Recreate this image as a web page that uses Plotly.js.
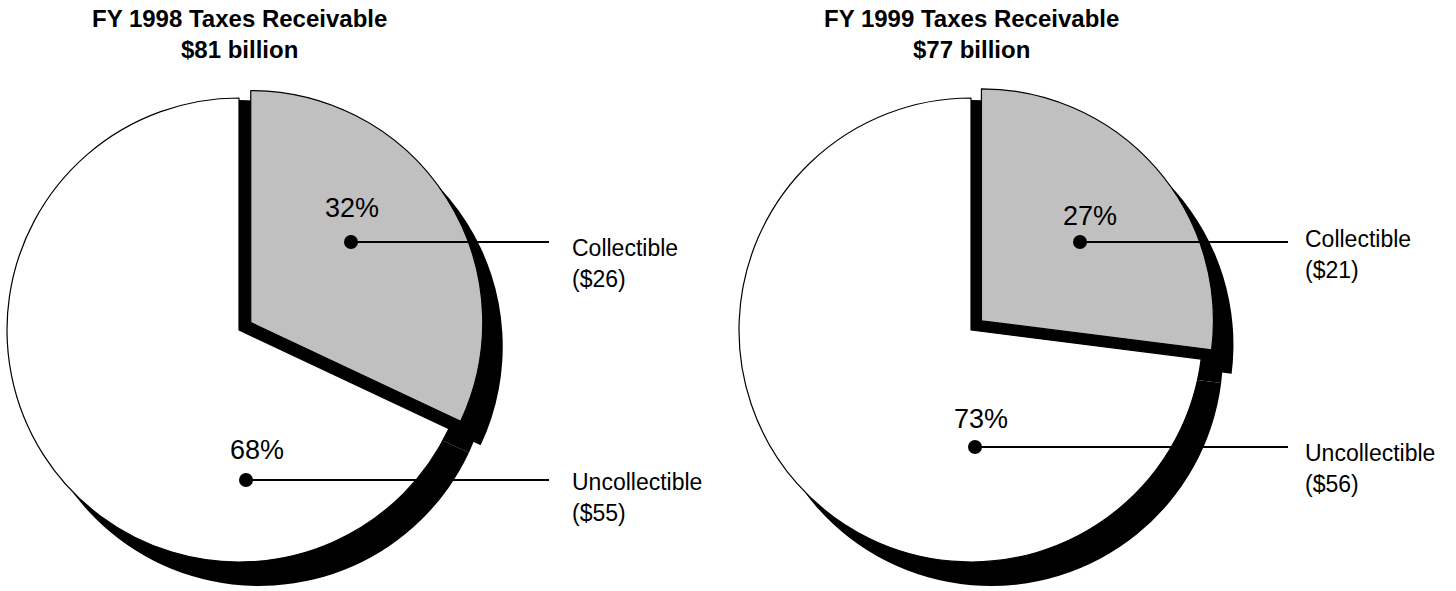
<!DOCTYPE html>
<html>
<head>
<meta charset="utf-8">
<script src="https://cdn.plot.ly/plotly-3.0.1.min.js"></script>
<style>
  html, body { margin: 0; padding: 0; overflow: hidden; background: #ffffff; }
  #chart { position: absolute; left: -20px; top: 0; }
</style>
</head>
<body>
<div id="chart"></div>
<script>
// ---- data ----
const years = ['FY 1998', 'FY 1999'];
const totals = [81, 77];                 // $ billion
const categories = ['Collectible', 'Uncollectible'];
const pct1998 = [32, 68];
const pct1999 = [27, 73];
const dollars1998 = [26, 55];
const dollars1999 = [21, 56];

// ---- layout geometry (page pixels) ----
const W = 1496, H = 640, OX = 20;       // div is shifted 20px left, taller than the window
const R = 232;                          // pie radius in px
const PULL = 0.06;
const SHADOW = {dx: 20, dy: 24};
const FONT = 'Liberation Sans, Arial, sans-serif';

const pies = [
  {cx: 239, cy: 330, pct: pct1998, dollars: dollars1998, year: years[0], total: totals[0],
   pctPos: [[352, 208], [257, 450]], dots: [[351, 242], [246, 480]], lineEnd: 549,
   labX: 570, labY: [[248, 279], [482, 513]]},
  {cx: 971, cy: 330, pct: pct1999, dollars: dollars1999, year: years[1], total: totals[1],
   pctPos: [[1090, 216], [981, 419]], dots: [[1080, 242], [975, 447]], lineEnd: 1288,
   labX: 1303, labY: [[239, 270], [453, 484]]}
];

const px = x => (x + OX) / W;
const py = y => 1 - y / H;

function domainFor(cx, cy) {
  const Rd = R * (1 + PULL);
  return {x: [px(cx - Rd), px(cx + Rd)], y: [py(cy + Rd), py(cy - Rd)]};
}

function pieTrace(p, pull, colors, line, dom) {
  return {
    type: 'pie', values: p.pct, labels: categories, sort: false, direction: 'clockwise', rotation: 0,
    pull: pull, textinfo: 'none', hoverinfo: 'skip', showlegend: false,
    marker: {colors: colors, line: line}, domain: dom
  };
}

const traces = [];
const shapes = [];
const annotations = [];

pies.forEach(p => {
  const sh = domainFor(p.cx + SHADOW.dx, p.cy + SHADOW.dy);
  // shadow: pulled and unpulled black copies, offset
  traces.push(pieTrace(p, [PULL, 0], ['#000000', '#000000'], {width: 0}, sh));
  traces.push(pieTrace(p, [0, PULL], ['#000000', 'rgba(0,0,0,0)'], {width: 0}, sh));
  // black side of the exploded slice (unpulled position)
  traces.push(pieTrace(p, [0, PULL], ['#000000', 'rgba(0,0,0,0)'], {width: 0}, domainFor(p.cx, p.cy + 2)));
  // main pie
  traces.push(pieTrace(p, [PULL, 0], ['#c0c0c0', '#ffffff'], {color: '#000000', width: 1.2}, domainFor(p.cx, p.cy)));

  // title
  annotations.push({
    xref: 'paper', yref: 'paper', x: px(p.cx), y: py(3), xanchor: 'center', yanchor: 'top',
    text: '<b>' + p.year + ' Taxes Receivable</b><br><b>$' + p.total + ' billion</b>',
    showarrow: false, align: 'center', font: {family: FONT, size: 24, color: '#000000'}
  });

  categories.forEach((c, i) => {
    // percentage label
    annotations.push({
      xref: 'paper', yref: 'paper', x: px(p.pctPos[i][0]), y: py(p.pctPos[i][1]),
      xanchor: 'center', yanchor: 'middle', text: p.pct[i] + '%', showarrow: false,
      font: {family: FONT, size: 27, color: '#000000'}
    });
    // category + dollars
    annotations.push({
      xref: 'paper', yref: 'paper', x: px(p.labX), y: py(p.labY[i][0]),
      xanchor: 'left', yanchor: 'middle', text: c, showarrow: false,
      font: {family: FONT, size: 23, color: '#000000'}
    });
    annotations.push({
      xref: 'paper', yref: 'paper', x: px(p.labX), y: py(p.labY[i][1]),
      xanchor: 'left', yanchor: 'middle', text: '($' + p.dollars[i] + ')', showarrow: false,
      font: {family: FONT, size: 23, color: '#000000'}
    });
    // leader line and dot
    const d = p.dots[i];
    shapes.push({type: 'line', xref: 'paper', yref: 'paper',
      x0: px(d[0]), y0: py(d[1]), x1: px(p.lineEnd), y1: py(d[1]),
      line: {color: '#000000', width: 2}});
    shapes.push({type: 'circle', xref: 'paper', yref: 'paper',
      x0: px(d[0] - 7), x1: px(d[0] + 7), y0: py(d[1] + 7), y1: py(d[1] - 7),
      fillcolor: '#000000', line: {color: '#000000', width: 0}});
  });
});

const layout = {
  width: W, height: H,
  margin: {l: 0, r: 0, t: 0, b: 0},
  paper_bgcolor: '#ffffff', plot_bgcolor: '#ffffff',
  showlegend: false,
  shapes: shapes,
  annotations: annotations
};

Plotly.newPlot('chart', traces, layout, {displayModeBar: false, staticPlot: true});
</script>
</body>
</html>
